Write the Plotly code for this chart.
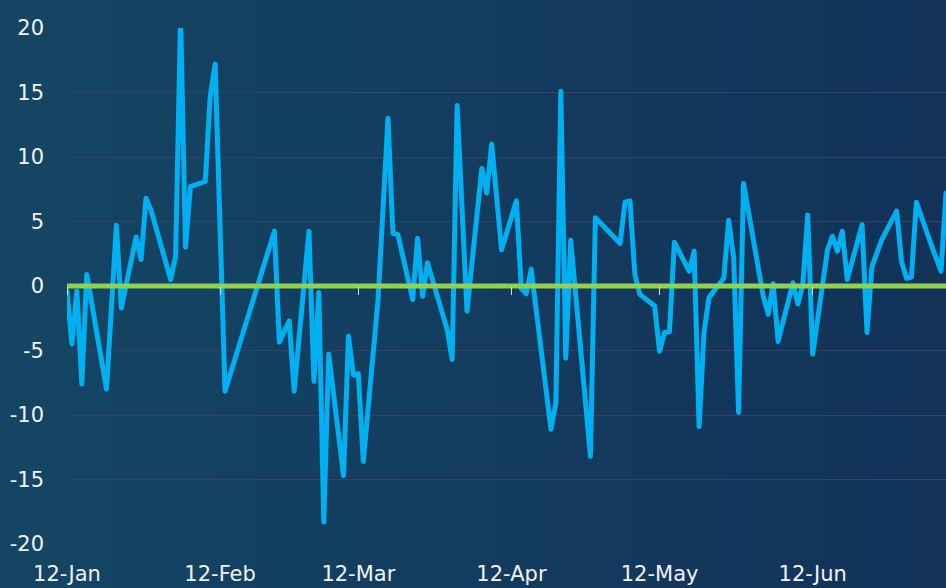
import base64, struct, zlib
import plotly.graph_objects as go

# ---------------- data ----------------
dates = [
    "2023-01-12", "2023-01-13", "2023-01-14", "2023-01-15", "2023-01-16", "2023-01-20",
    "2023-01-22", "2023-01-23", "2023-01-26", "2023-01-27", "2023-01-28", "2023-01-29",
    "2023-02-02", "2023-02-03", "2023-02-04", "2023-02-05", "2023-02-06", "2023-02-09",
    "2023-02-10", "2023-02-11", "2023-02-13", "2023-02-23", "2023-02-24", "2023-02-26",
    "2023-02-27", "2023-03-02", "2023-03-03", "2023-03-04", "2023-03-05", "2023-03-06",
    "2023-03-09", "2023-03-10", "2023-03-11", "2023-03-12", "2023-03-13", "2023-03-16",
    "2023-03-17", "2023-03-18", "2023-03-19", "2023-03-20", "2023-03-23", "2023-03-24",
    "2023-03-25", "2023-03-26", "2023-03-30", "2023-03-31", "2023-04-01", "2023-04-03",
    "2023-04-06", "2023-04-07", "2023-04-08", "2023-04-10", "2023-04-13", "2023-04-14",
    "2023-04-15", "2023-04-16", "2023-04-20", "2023-04-21", "2023-04-22", "2023-04-23",
    "2023-04-24", "2023-04-28", "2023-04-29", "2023-05-04", "2023-05-05", "2023-05-06",
    "2023-05-07", "2023-05-08", "2023-05-11", "2023-05-12", "2023-05-13", "2023-05-14",
    "2023-05-15", "2023-05-18", "2023-05-19", "2023-05-20", "2023-05-21", "2023-05-22",
    "2023-05-25", "2023-05-26", "2023-05-27", "2023-05-28", "2023-05-29", "2023-06-02",
    "2023-06-03", "2023-06-04", "2023-06-05", "2023-06-08", "2023-06-09", "2023-06-10",
    "2023-06-11", "2023-06-12", "2023-06-15", "2023-06-16", "2023-06-17", "2023-06-18",
    "2023-06-19", "2023-06-22", "2023-06-23", "2023-06-24", "2023-06-26", "2023-06-29",
    "2023-06-30", "2023-07-01", "2023-07-02", "2023-07-03", "2023-07-06", "2023-07-08",
    "2023-07-09",
]
values = [
    -0.4, -4.5, -0.4, -7.6, 0.9, -8.0, 4.7, -1.7, 3.8, 2.05, 6.8, 5.9,
    0.5, 2.3, 21.0, 3.0, 7.7, 8.1, 14.7, 17.2, -8.15, 4.25, -4.35, -2.7,
    -8.15, 4.25, -7.4, -0.5, -18.3, -5.3, -14.7, -3.9, -6.9, -6.8, -13.6, -1.0,
    6.0, 13.0, 4.07, 4.0, -1.05, 3.7, -0.8, 1.8, -3.4, -5.7, 14.0, -1.95,
    9.1, 7.2, 11.0, 2.8, 6.6, -0.2, -0.6, 1.3, -11.1, -9.05, 15.1, -5.6,
    3.55, -13.2, 5.3, 3.3, 6.5, 6.6, 0.9, -0.65, -1.55, -5.05, -3.6, -3.55,
    3.4, 1.15, 2.7, -10.9, -3.6, -0.9, 0.6, 5.1, 2.2, -9.8, 7.95, -0.8,
    -2.2, 0.2, -4.3, 0.25, -1.4, 0.1, 5.5, -5.3, 2.8, 3.85, 2.7, 4.25,
    0.5, 4.75, -3.6, 1.5, 3.6, 5.8, 1.9, 0.6, 0.7, 6.5, 3.2, 1.15,
    7.2,
]
baseline = [0.0] * len(dates)

x_tick_dates = ["2023-01-12", "2023-02-12", "2023-03-12", "2023-04-12", "2023-05-12", "2023-06-12"]
x_tick_labels = ["12-Jan", "12-Feb", "12-Mar", "12-Apr", "12-May", "12-Jun"]
y_tick_vals = [20, 15, 10, 5, 0, -5, -10, -15, -20]
y_tick_labels = ["20", "15", "10", "5", "0", "-5", "-10", "-15", "-20"]
x_range = ["2023-01-12", "2023-07-09"]


# ---------------- background gradient image ----------------
def gradient_png(w, h, c_left, c_right):
    rows = b""
    for _ in range(h):
        row = b"\x00"
        for i in range(w):
            t = i / (w - 1)
            row += bytes(int(round(c_left[k] + (c_right[k] - c_left[k]) * t)) for k in range(3))
        rows += row

    def chunk(tag, data):
        c = tag + data
        return struct.pack(">I", len(data)) + c + struct.pack(">I", zlib.crc32(c) & 0xFFFFFFFF)

    png = b"\x89PNG\r\n\x1a\n"
    png += chunk(b"IHDR", struct.pack(">IIBBBBB", w, h, 8, 2, 0, 0, 0))
    png += chunk(b"IDAT", zlib.compress(rows, 9))
    png += chunk(b"IEND", b"")
    return "data:image/png;base64," + base64.b64encode(png).decode()


W, H = 946, 588
ML, MR, MT, MB = 67, 0, 28, 44
PW, PH = W - ML - MR, H - MT - MB

bg = gradient_png(128, 2, (20, 70, 100), (18, 50, 88))

fig = go.Figure()

fig.add_trace(go.Scatter(
    x=dates, y=values, mode="lines",
    line=dict(color="#00B0F0", width=5),
    hoverinfo="skip", showlegend=False,
))
fig.add_trace(go.Scatter(
    x=dates, y=baseline, mode="lines",
    line=dict(color="#92D050", width=5),
    xaxis="x2", yaxis="y",
    hoverinfo="skip", showlegend=False,
))

font_family = "DejaVu Sans, Open Sans, sans-serif"

fig.update_layout(
    width=W, height=H,
    margin=dict(l=ML, r=MR, t=MT, b=MB, pad=0),
    paper_bgcolor="rgba(0,0,0,0)",
    plot_bgcolor="rgba(0,0,0,0)",
    font=dict(family=font_family, size=21, color="#F2F2F2"),
    images=[dict(
        source=bg, xref="paper", yref="paper",
        x=-ML / PW, y=1 + MT / PH, sizex=W / PW, sizey=H / PH,
        xanchor="left", yanchor="top", sizing="stretch", layer="below",
    )],
    xaxis=dict(
        type="date", range=x_range,
        tickvals=x_tick_dates, ticktext=x_tick_labels,
        showgrid=False, zeroline=False, showline=False, ticks="",
        ticklabelstandoff=15,
    ),
    xaxis2=dict(
        type="date", matches="x", overlaying="x", anchor="free", position=0.5,
        side="bottom",
        tickvals=x_tick_dates, showticklabels=False,
        ticks="outside", ticklen=8, tickwidth=1, tickcolor="#D9D9D9",
        showgrid=False, zeroline=False, showline=False,
    ),
    yaxis=dict(
        range=[-20, 20],
        tickvals=y_tick_vals, ticktext=y_tick_labels,
        showgrid=True, gridcolor="#3A3F66", gridwidth=1,
        zeroline=False, showline=False, ticks="",
        ticklabelstandoff=22,
    ),
)

fig.write_html(
    "out.html",
    config={"displayModeBar": False},
    post_script=(
        "document.body.style.margin='0';document.body.style.overflow='hidden';"
        "document.querySelectorAll('.scatterlayer path.js-line').forEach(function(p){"
        "p.style.strokeLinejoin='round';p.style.strokeLinecap='round';});"
    ),
)
